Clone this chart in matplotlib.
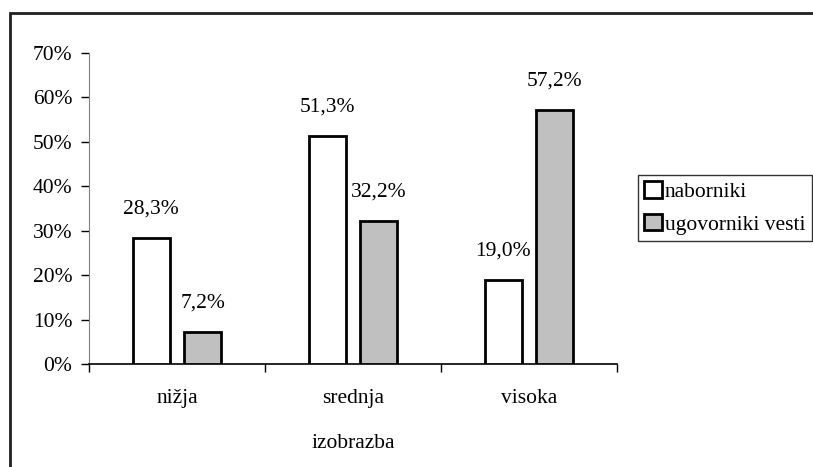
import matplotlib
matplotlib.use("Agg")
import matplotlib.pyplot as plt
from matplotlib.patches import Rectangle
import numpy as np

categories = ["nižja", "srednja", "visoka"]
series_names = ["naborniki", "ugovorniki vesti"]
naborniki = [28.3, 51.3, 19.0]
ugovorniki = [7.2, 32.2, 57.2]
xlabel = "izobrazba"
yticks = [0, 10, 20, 30, 40, 50, 60, 70]

plt.rcParams['font.family'] = ['Liberation Serif', 'DejaVu Serif']
fs = 15.5

fig = plt.figure(figsize=(8.13, 4.67), dpi=100)
ax = fig.add_axes([89/813, (467-364)/467, (617-89)/813, (364-53)/467])

x = np.arange(len(categories))
w = 0.213
off = 0.146
b1 = ax.bar(x - off, naborniki, w, color="white", edgecolor="black", linewidth=2, label=series_names[0], zorder=3)
b2 = ax.bar(x + off, ugovorniki, w, color="#C0C0C0", edgecolor="black", linewidth=2, label=series_names[1], zorder=3)

for bars, vals in ((b1, naborniki), (b2, ugovorniki)):
    for rect, v in zip(bars, vals):
        ax.annotate(f"{v:.1f}%".replace(".", ","), (rect.get_x() + rect.get_width()/2, v),
                    xytext=(0, 14), textcoords="offset points", ha="center", va="bottom",
                    fontsize=fs)

ax.set_xlim(-0.5, len(categories) - 0.5)
ax.set_ylim(0, 70)
ax.set_yticks(yticks)
ax.set_yticklabels([f"{t}%" for t in yticks], fontsize=fs)
ax.set_xticks(x)
ax.set_xticklabels(categories, fontsize=fs)
ax.tick_params(axis="x", length=0, pad=18)
ax.set_xticks(np.arange(len(categories) + 1) - 0.5, minor=True)
ax.tick_params(axis="x", which="minor", length=6, width=1, direction="out")
ax.tick_params(axis="y", length=6, width=1, direction="out", pad=6)
ax.set_xlabel(xlabel, fontsize=fs, labelpad=19)
for s in ("top", "right"):
    ax.spines[s].set_visible(False)
ax.spines["left"].set_color("#808080")
ax.spines["bottom"].set_color("black")
ax.spines["bottom"].set_linewidth(1.2)

leg = fig.legend(loc="upper left", bbox_to_anchor=(638/813, 1 - 175/467), fontsize=fs,
                 frameon=True, fancybox=False, edgecolor="black", handlelength=0.8,
                 handleheight=0.8, handletextpad=0.15, borderpad=0.3, borderaxespad=0,
                 labelspacing=0.55)
leg.get_frame().set_linewidth(1)
for h in leg.legend_handles:
    h.set_linewidth(2)

fig.patches.append(Rectangle((10/813, -0.1), 1.2, 1 - 12.5/467 + 0.1, transform=fig.transFigure,
                             fill=False, edgecolor="#202020", linewidth=2))

fig.savefig("out.png", dpi=100)
